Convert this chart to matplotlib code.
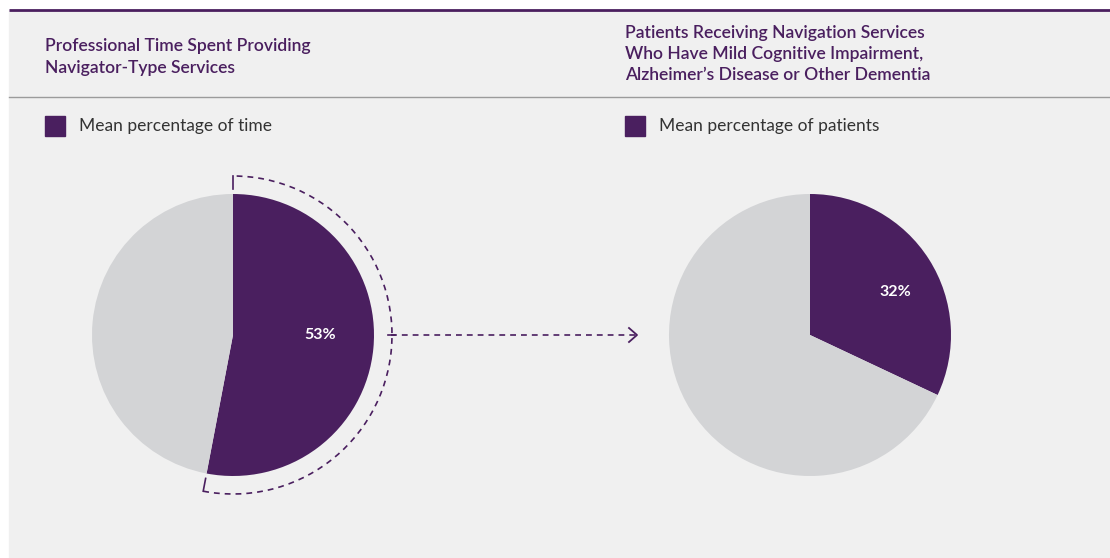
import matplotlib.pyplot as plt
from matplotlib.patches import Rectangle, Arc
import numpy as np

# data
left_title = "Professional Time Spent Providing\nNavigator-Type Services"
right_title = "Patients Receiving Navigation Services\nWho Have Mild Cognitive Impairment,\nAlzheimer\u2019s Disease or Other Dementia"
left_legend = "Mean percentage of time"
right_legend = "Mean percentage of patients"
left_values = [53, 47]
right_values = [32, 68]

purple = '#4a1f5f'
grey_slice = '#d3d4d6'
panel = '#f0f0f0'
H = 558

plt.rcParams['font.family'] = ['Lato', 'DejaVu Sans']

fig = plt.figure(figsize=(11.1, 5.58), dpi=100, facecolor='white')
ax = fig.add_axes([0, 0, 1, 1])
ax.set_xlim(0, 1110)
ax.set_ylim(0, H)
ax.set_aspect('equal')
ax.axis('off')

# panel and rules
ax.add_patch(Rectangle((9, 0), 1101, H - 10, color=panel, zorder=0))
ax.plot([9, 1110], [H - 9.5, H - 9.5], color=purple, lw=2, solid_capstyle='butt', zorder=1)
ax.plot([9, 1110], [H - 97, H - 97], color='#9b9b9b', lw=1, zorder=1)

# titles
ax.text(45, H - 57, left_title, color=purple, fontsize=12.6, fontweight='semibold',
        va='center', ha='left', linespacing=1.42)
ax.text(625, H - 54, right_title, color=purple, fontsize=12.6, fontweight='semibold',
        va='center', ha='left', linespacing=1.42)

# legends
for x0, label in [(45, left_legend), (625, right_legend)]:
    ax.add_patch(Rectangle((x0, H - 136), 20, 20, color=purple, zorder=2))
    ax.text(x0 + 34, H - 126, label, color='#333333', fontsize=12.5,
            va='center', ha='left')

# pies
r = 141
lc = (233, H - 335)
rc = (810, H - 335)
ax.pie(left_values, colors=[purple, grey_slice], startangle=90, counterclock=False,
       center=lc, radius=r, frame=True, wedgeprops=dict(linewidth=0))
ax.pie(right_values, colors=[purple, grey_slice], startangle=90, counterclock=False,
       center=rc, radius=r, frame=True, wedgeprops=dict(linewidth=0))
ax.set_xlim(0, 1110)
ax.set_ylim(0, H)
ax.axis('off')

ax.text(320, H - 335, f"{left_values[0]}%", color='white', fontsize=11.5,
        fontweight='bold', ha='center', va='center')
ax.text(895, H - 292, f"{right_values[0]}%", color='white', fontsize=11.5,
        fontweight='bold', ha='center', va='center')

# dashed bracket around the left purple slice
ra = 159
end_ang = 90 - left_values[0] / 100 * 360
ax.add_patch(Arc(lc, 2 * ra, 2 * ra, theta1=end_ang, theta2=90, color=purple,
                 lw=1.2, ls=(0, (3.5, 3)), zorder=3))
for a in [90, end_ang]:
    t = np.deg2rad(a)
    ax.plot([lc[0] + ra * np.cos(t), lc[0] + (ra - 13) * np.cos(t)],
            [lc[1] + ra * np.sin(t), lc[1] + (ra - 13) * np.sin(t)],
            color=purple, lw=1.2, zorder=3)

# dashed arrow to the right pie
ax.plot([lc[0] + ra - 1, 636], [lc[1], lc[1]], color=purple, lw=1.2,
        ls=(0, (3.5, 3)), zorder=3)
ax.plot([lc[0] + ra - 4, lc[0] + ra + 3], [lc[1], lc[1]], color=purple, lw=1.2, zorder=3)
ax.plot([629, 637, 629], [lc[1] + 7, lc[1], lc[1] - 7], color=purple, lw=1.3, zorder=3)

fig.savefig('out.png', dpi=100, facecolor='white')
